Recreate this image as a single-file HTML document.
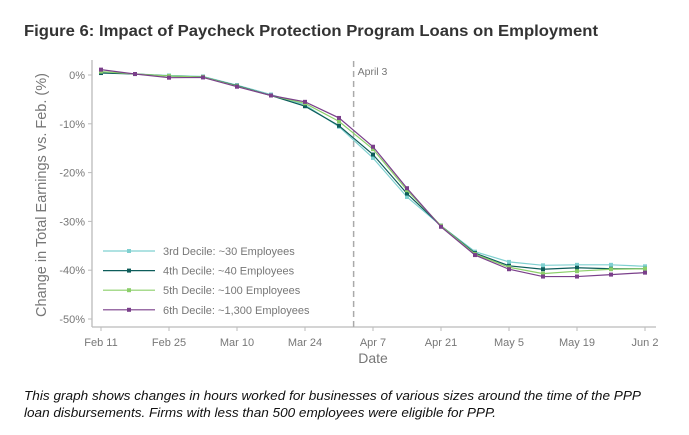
<!DOCTYPE html>
<html><head><meta charset="utf-8"><style>
html,body{margin:0;padding:0;background:#fff;}
svg{display:block;font-family:"Liberation Sans",sans-serif;}
</style></head><body>
<svg id="chart" width="689" height="435" viewBox="0 0 689 435" xmlns="http://www.w3.org/2000/svg">
<text x="24" y="36" font-size="16" font-weight="bold" fill="#333" textLength="574" lengthAdjust="spacingAndGlyphs">Figure 6: Impact of Paycheck Protection Program Loans on Employment</text>
<g id="plot"></g>
<text x="24" y="400" font-size="13" font-style="italic" fill="#111" textLength="617" lengthAdjust="spacingAndGlyphs">This graph shows changes in hours worked for businesses of various sizes around the time of the PPP</text>
<text x="24" y="417" font-size="13" font-style="italic" fill="#111" textLength="472" lengthAdjust="spacingAndGlyphs">loan disbursements. Firms with less than 500 employees were eligible for PPP.</text>
</svg>
<script>
const weeks = ["Feb 11","Feb 18","Feb 25","Mar 3","Mar 10","Mar 17","Mar 24","Mar 31","Apr 7","Apr 14","Apr 21","Apr 28","May 5","May 12","May 19","May 26","Jun 2"];
const xTickLabels = ["Feb 11","Feb 25","Mar 10","Mar 24","Apr 7","Apr 21","May 5","May 19","Jun 2"];
const yTicks = [0,-10,-20,-30,-40,-50];
const seriesNames = ["3rd Decile: ~30 Employees","4th Decile: ~40 Employees","5th Decile: ~100 Employees","6th Decile: ~1,300 Employees"];
const decile3 = [0.55,0.2,-0.1,-0.3,-2.1,-4.0,-6.1,-10.6,-17.0,-25.0,-30.9,-36.2,-38.3,-39.0,-38.9,-38.9,-39.2];
const decile4 = [0.4,0.2,-0.2,-0.4,-2.2,-4.2,-6.4,-10.4,-16.3,-24.3,-30.9,-36.5,-39.1,-39.8,-39.5,-39.7,-39.7];
const decile5 = [0.7,0.2,-0.2,-0.4,-2.3,-4.2,-5.8,-9.5,-15.2,-23.6,-30.9,-36.7,-39.4,-40.7,-40.2,-39.8,-39.7];
const decile6 = [1.1,0.2,-0.55,-0.5,-2.4,-4.2,-5.5,-8.8,-14.7,-23.2,-31.1,-36.9,-39.8,-41.3,-41.3,-40.9,-40.5];
const eventIndex = 7.43; // April 3 in weeks from Feb 11

const colors = ["#7fd0d0","#0d5c5a","#8ccf6a","#7a3f8a"];
const allSeries = [decile3,decile4,decile5,decile6];
const NS="http://www.w3.org/2000/svg";
const plot=document.getElementById('plot');
const x0=101, dx=34, y0=75, pxPerPct=4.88;
const xs=i=>x0+i*dx;
const ys=v=>y0-v*pxPerPct;
function mk(t,a){const e=document.createElementNS(NS,t);for(const k in a)e.setAttribute(k,a[k]);plot.appendChild(e);return e;}

let e=mk('line',{x1:92,y1:60,x2:92,y2:327,stroke:'#bbb','stroke-width':1.3});


e=mk('line',{x1:92,y1:327,x2:656,y2:327,stroke:'#bbb','stroke-width':1.3});



yTicks.forEach(v=>{
  const t=mk('line',{x1:88,x2:92,y1:ys(v),y2:ys(v),stroke:'#bbb'});
  
  
  const l=mk('text',{x:85,y:ys(v)+4,'font-size':11,fill:'#777','text-anchor':'end'});
  l.textContent=v+'%';
  
  
});
xTickLabels.forEach(lbl=>{
  const i=weeks.indexOf(lbl);
  const t=mk('line',{x1:xs(i),x2:xs(i),y1:327,y2:331,stroke:'#bbb'});
  
  
  const l=mk('text',{x:xs(i),y:346,'font-size':11,fill:'#777','text-anchor':'middle'});
  l.textContent=lbl;
  
  
});
e=mk('text',{x:373,y:363,'font-size':14,fill:'#777','text-anchor':'middle'});
e.textContent='Date';


e=mk('text',{x:0,y:0,'font-size':14.5,fill:'#777','text-anchor':'middle',transform:'translate(46,195) rotate(-90)'});
e.textContent='Change in Total Earnings vs. Feb. (%)';



const ex=xs(eventIndex);
e=mk('line',{x1:ex,x2:ex,y1:61,y2:327,stroke:'#aaa','stroke-width':1.5,'stroke-dasharray':'6,4'});


e=mk('text',{x:ex+4,y:75,'font-size':10.5,fill:'#777'});
e.textContent='April 3';



allSeries.forEach((s,k)=>{
  const p=mk('polyline',{points:s.map((v,i)=>xs(i)+','+ys(v)).join(' '),fill:'none',stroke:colors[k],'stroke-width':1.2});
  
  
  s.forEach((v,i)=>{
    const c=mk('rect',{x:xs(i)-2,y:ys(v)-2,width:4,height:4,fill:colors[k]});
    
    
  });
});

seriesNames.forEach((n,k)=>{
  const y=251+k*19.6;
  const l=mk('line',{x1:103,x2:155,y1:y,y2:y,stroke:colors[k],'stroke-width':1.2});
  
  
  const r=mk('rect',{x:127,y:y-2,width:4,height:4,fill:colors[k]});
  
  
  const t=mk('text',{x:163,y:y+4,'font-size':11,fill:'#777'});
  t.textContent=n;
  
  
});
</script>
</body></html>
